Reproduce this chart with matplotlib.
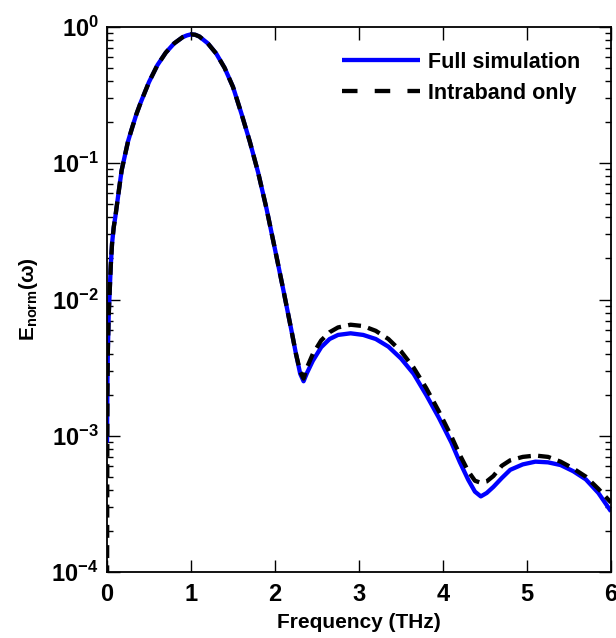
import matplotlib

matplotlib.use("Agg")
import matplotlib.pyplot as plt
import numpy as np
from matplotlib.ticker import LogLocator, NullLocator

# Frequency grid (THz) and log10 of the normalised spectra
freq = [0, 0.005, 0.01, 0.02, 0.03, 0.045, 0.06, 0.08, 0.1, 0.125, 0.15, 0.175,
        0.2, 0.25, 0.3, 0.35, 0.4, 0.5, 0.6, 0.7, 0.8, 0.9, 0.95, 1.0, 1.05, 1.1,
        1.2, 1.3, 1.4, 1.5, 1.6, 1.7, 1.8, 1.9, 2.0, 2.1, 2.2, 2.25, 2.3, 2.34,
        2.38, 2.45, 2.55, 2.65, 2.75, 2.9, 3.05, 3.2, 3.35, 3.5, 3.65, 3.8, 3.95,
        4.1, 4.2, 4.3, 4.38, 4.45, 4.52, 4.6, 4.7, 4.8, 4.95, 5.1, 5.25, 5.4,
        5.55, 5.7, 5.85, 6.0]

full_log10 = [-3.05, -2.6, -2.38, -2.12, -1.97, -1.75, -1.59, -1.47, -1.39, -1.274,
              -1.16, -1.05, -0.98, -0.84, -0.738, -0.64, -0.556, -0.404, -0.28,
              -0.188, -0.12, -0.075, -0.062, -0.054, -0.057, -0.07, -0.12, -0.195,
              -0.30, -0.44, -0.635, -0.841, -1.07, -1.336, -1.632, -1.932, -2.241,
              -2.40, -2.545, -2.60, -2.54, -2.45, -2.35, -2.29, -2.26, -2.248, -2.26,
              -2.29, -2.346, -2.433, -2.545, -2.70, -2.867, -3.05, -3.193, -3.323,
              -3.41, -3.445, -3.42, -3.375, -3.31, -3.25, -3.21, -3.19, -3.195,
              -3.215, -3.26, -3.32, -3.42, -3.555]

intra_log10 = [-4.5, -2.7, -2.38, -2.12, -1.97, -1.75, -1.59, -1.47, -1.39, -1.274,
               -1.16, -1.05, -0.98, -0.84, -0.738, -0.64, -0.556, -0.404, -0.28,
               -0.188, -0.12, -0.075, -0.062, -0.054, -0.057, -0.07, -0.12, -0.195,
               -0.30, -0.44, -0.635, -0.841, -1.07, -1.336, -1.632, -1.932, -2.241,
               -2.40, -2.53, -2.58, -2.50, -2.40, -2.30, -2.24, -2.205, -2.185,
               -2.195, -2.23, -2.29, -2.38, -2.50, -2.65, -2.82, -3.005, -3.14,
               -3.26, -3.33, -3.345, -3.335, -3.295, -3.22, -3.18, -3.155, -3.145,
               -3.155, -3.19, -3.24, -3.30, -3.39, -3.49]

series_labels = ["Full simulation", "Intraband only"]
x_ticks = [0, 1, 2, 3, 4, 5, 6]

plt.rcParams["font.family"] = ["Liberation Sans", "DejaVu Sans"]
plt.rcParams["font.weight"] = "bold"
plt.rcParams["mathtext.fontset"] = "custom"
plt.rcParams["mathtext.rm"] = "Liberation Sans:bold"
plt.rcParams["mathtext.it"] = "Liberation Sans:bold"
plt.rcParams["mathtext.bf"] = "Liberation Sans:bold"
plt.rcParams["mathtext.default"] = "regular"

fig = plt.figure(figsize=(6.16, 6.38), dpi=100)
ax = fig.add_axes([0.1737, 0.1034, 0.8182, 0.8543])

x = np.array(freq)
ax.plot(x, 10 ** np.array(full_log10), color="#0000ff", lw=3.1,
        label=series_labels[0], solid_capstyle="butt", solid_joinstyle="round")
ax.plot(x, 10 ** np.array(intra_log10), color="black", lw=3.1,
        dashes=(3.0, 1.7), label=series_labels[1])

ax.set_yscale("log")
ax.set_xlim(0, 6)
ax.set_ylim(1e-4, 1)
ax.set_xticks(x_ticks)
ax.xaxis.set_minor_locator(NullLocator())
ax.yaxis.set_major_locator(LogLocator(base=10))
ax.yaxis.set_minor_locator(LogLocator(base=10, subs=np.arange(2, 10)))

ax.tick_params(which="both", direction="in", top=True, right=True,
               labelsize=17, width=1.0)
ax.tick_params(which="major", length=9)
ax.tick_params(which="minor", length=4.5)
ax.tick_params(axis="x", pad=8)
ax.tick_params(axis="y", pad=6)
for sp in ax.spines.values():
    sp.set_linewidth(1.3)

ax.set_xlabel("Frequency (THz)", fontsize=15, fontweight="bold", labelpad=5)
ax.set_ylabel(r"E$_{norm}$(ω)", fontsize=15, fontweight="bold", labelpad=8)

leg = ax.legend(loc="upper right", frameon=False, fontsize=15.5, handlelength=3.6,
                handletextpad=0.4, labelspacing=0.45,
                bbox_to_anchor=(0.978, 0.99))
leg.get_lines()[1].set_dashes((3.6, 4.0))

fig.savefig("out.png", dpi=100)
